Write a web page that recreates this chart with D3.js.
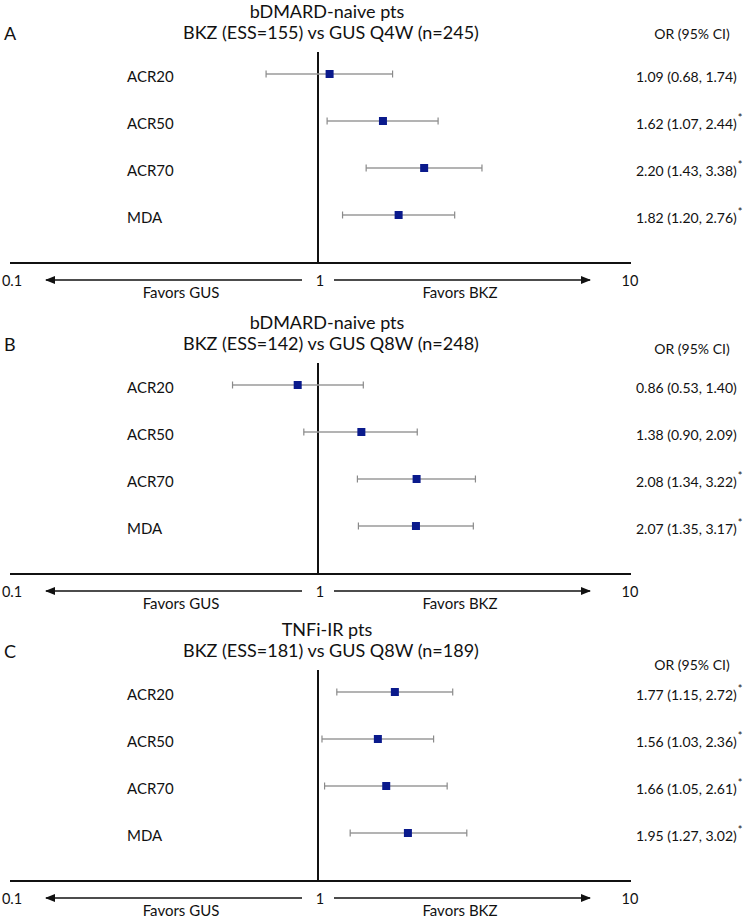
<!DOCTYPE html>
<html><head><meta charset="utf-8">
<script src="https://cdn.jsdelivr.net/npm/d3@7"></script>
<style>
html,body{margin:0;padding:0;background:#fff;}
text{font-family:Lato,"Open Sans",sans-serif;fill:#111;}
</style></head>
<body><svg id="c" width="750" height="920"></svg>
<script>
const outcomes = ["ACR20","ACR50","ACR70","MDA"];
const panelLetters = ["A","B","C"];
const titleLine1 = ["bDMARD-naive pts","bDMARD-naive pts","TNFi-IR pts"];
const titleLine2 = ["BKZ (ESS=155) vs GUS Q4W (n=245)","BKZ (ESS=142) vs GUS Q8W (n=248)","BKZ (ESS=181) vs GUS Q8W (n=189)"];
const orA = [1.09,1.62,2.20,1.82], loA = [0.68,1.07,1.43,1.20], hiA = [1.74,2.44,3.38,2.76], sigA = [false,true,true,true];
const orB = [0.86,1.38,2.08,2.07], loB = [0.53,0.90,1.34,1.35], hiB = [1.40,2.09,3.22,3.17], sigB = [false,false,true,true];
const orC = [1.77,1.56,1.66,1.95], loC = [1.15,1.03,1.05,1.27], hiC = [2.72,2.36,2.61,3.02], sigC = [true,true,true,true];
const tickValues = [0.1,1,10];
const tickLabels = ["0.1","1","10"];
const favorLabels = ["Favors GUS","Favors BKZ"];
const colHeader = "OR (95% CI)";

const panels = [
  {or:orA, lo:loA, hi:hiA, sig:sigA},
  {or:orB, lo:loB, hi:hiB, sig:sigB},
  {or:orC, lo:loC, hi:hiC, sig:sigC}
];
const panelY = [0, 311, 618];
const orHeaderDy = [33, 37, 46];

const svg = d3.select("#c");
const x = d3.scaleLog().domain([0.1,10]).range([8,628]);
const fmt = d3.format(".2f");

svg.append("defs").append("marker")
  .attr("id","ah").attr("viewBox","0 0 10 10").attr("refX",9).attr("refY",5)
  .attr("markerWidth",6.5).attr("markerHeight",6.5).attr("orient","auto-start-reverse")
  .append("path").attr("d","M0,1 L10,5 L0,9 Z").attr("fill","#111");

panels.forEach((p, pi) => {
  const g = svg.append("g").attr("transform", `translate(0,${panelY[pi]})`);
  const y = d3.scalePoint().domain(outcomes).range([74, 215]);
  const axisY = 263;

  g.append("text").attr("x", 327).attr("y", 11).attr("text-anchor","middle")
    .attr("dominant-baseline","central").style("font-size","18px").text(titleLine1[pi]);
  g.append("text").attr("x", 331).attr("y", 32).attr("text-anchor","middle")
    .attr("dominant-baseline","central").style("font-size","18px").text(titleLine2[pi]);
  g.append("text").attr("x", 4).attr("y", 33)
    .attr("dominant-baseline","central").style("font-size","18px").text(panelLetters[pi]);
  g.append("text").attr("x", 692).attr("y", orHeaderDy[pi]).attr("text-anchor","middle")
    .attr("dominant-baseline","central").style("font-size","14px").text(colHeader);

  // reference line at OR = 1
  g.append("line").attr("x1", x(1)).attr("x2", x(1)).attr("y1", 52).attr("y2", axisY)
    .attr("stroke","#111").attr("stroke-width",2);
  // axis line
  g.append("line").attr("x1", x(0.1)+2).attr("x2", x(10)+3).attr("y1", axisY).attr("y2", axisY)
    .attr("stroke","#111").attr("stroke-width",2.2);

  // tick labels
  g.selectAll(".tl").data(tickValues).enter().append("text")
    .attr("x", (d,i) => x(d) + (i===0 ? 4 : 2)).attr("y", axisY + 17)
    .attr("text-anchor","middle").attr("dominant-baseline","central")
    .style("font-size","14.5px").text((d,i) => tickLabels[i]);

  // arrows
  const ay = axisY + 17;
  g.append("line").attr("x1", x(1)-16).attr("x2", x(0.1)+38).attr("y1", ay).attr("y2", ay)
    .attr("stroke","#111").attr("stroke-width",1.6).attr("marker-end","url(#ah)");
  g.append("line").attr("x1", x(1)+16).attr("x2", x(10)-38).attr("y1", ay).attr("y2", ay)
    .attr("stroke","#111").attr("stroke-width",1.6).attr("marker-end","url(#ah)");
  g.append("text").attr("x", 181).attr("y", axisY + 29).attr("text-anchor","middle")
    .attr("dominant-baseline","central").style("font-size","15px").text(favorLabels[0]);
  g.append("text").attr("x", 460).attr("y", axisY + 29).attr("text-anchor","middle")
    .attr("dominant-baseline","central").style("font-size","15px").text(favorLabels[1]);

  outcomes.forEach((o, i) => {
    const yy = y(o);
    g.append("text").attr("x", 127).attr("y", yy+2).attr("dominant-baseline","central")
      .style("font-size","15px").text(o);
    // CI
    g.append("line").attr("x1", x(p.lo[i])).attr("x2", x(p.hi[i])).attr("y1", yy).attr("y2", yy)
      .attr("stroke","#9a9a9a").attr("stroke-width",1.4);
    [p.lo[i], p.hi[i]].forEach(v => {
      g.append("line").attr("x1", x(v)).attr("x2", x(v)).attr("y1", yy-3.5).attr("y2", yy+3.5)
        .attr("stroke","#8a8a8a").attr("stroke-width",1.2);
    });
    g.append("rect").attr("x", x(p.or[i])-4).attr("y", yy-4).attr("width",8).attr("height",8)
      .attr("fill","#0a1a8c");
    const t = g.append("text").attr("x", 636).attr("y", yy+2).attr("dominant-baseline","central")
      .style("font-size","14px");
    t.append("tspan").text(`${fmt(p.or[i])} (${fmt(p.lo[i])}, ${fmt(p.hi[i])})`);
    if (p.sig[i]) t.append("tspan").attr("dy",-6).attr("dx",1).style("font-size","11px").text("*");
  });
});
</script></body></html>
